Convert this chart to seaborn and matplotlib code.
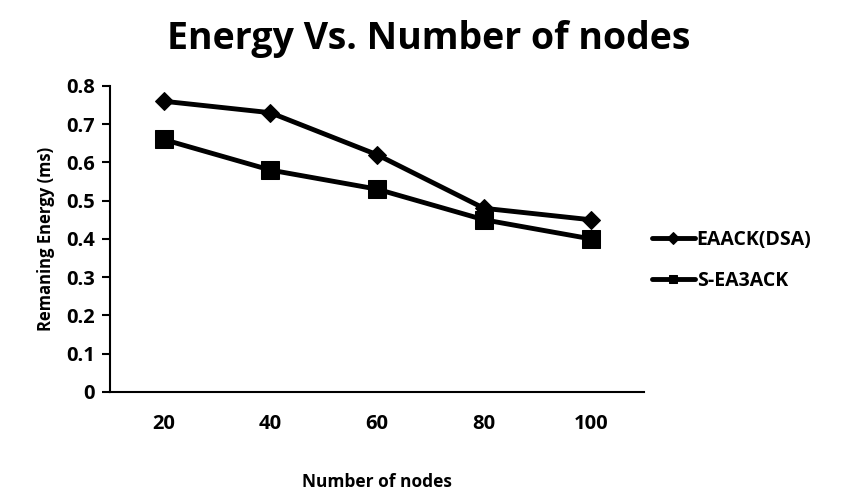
import matplotlib
matplotlib.use("Agg")
import matplotlib.pyplot as plt
import seaborn as sns
import pandas as pd

nodes = [20, 40, 60, 80, 100]
eaack = [0.76, 0.73, 0.62, 0.48, 0.45]
s_ea3ack = [0.66, 0.58, 0.53, 0.45, 0.40]
series_names = ["EAACK(DSA)", "S-EA3ACK"]
yticks = [0, 0.1, 0.2, 0.3, 0.4, 0.5, 0.6, 0.7, 0.8]
yticklabels = ["0", "0.1", "0.2", "0.3", "0.4", "0.5", "0.6", "0.7", "0.8"]

df = pd.DataFrame({
    "nodes": nodes * 2,
    "energy": eaack + s_ea3ack,
    "series": [series_names[0]] * len(nodes) + [series_names[1]] * len(nodes),
})

sns.set_style("white")
plt.rcParams["font.family"] = ["Open Sans", "DejaVu Sans"]
plt.rcParams["text.color"] = "black"
plt.rcParams["axes.labelcolor"] = "black"
plt.rcParams["xtick.color"] = "black"
plt.rcParams["ytick.color"] = "black"

fig = plt.figure(figsize=(8.67, 4.91), dpi=100)
ax = fig.add_axes([0.127, 0.202, 0.616, 0.623])

sns.lineplot(data=df, x="nodes", y="energy", hue="series", style="series",
             markers={"EAACK(DSA)": "D", "S-EA3ACK": "s"}, dashes=False,
             palette={"EAACK(DSA)": "black", "S-EA3ACK": "black"},
             linewidth=3.5, ax=ax, legend=True, markeredgecolor="black")
for line, ms in zip(ax.lines[:2], [9, 13]):
    line.set_markersize(ms)
    line.set_markeredgecolor("black")

ax.set_xlim(10, 110)
ax.set_ylim(0, 0.8)
ax.set_xticks(nodes)
ax.set_xticklabels([str(n) for n in nodes])
ax.set_yticks(yticks)
ax.set_yticklabels(yticklabels)
for sp in ["top", "right"]:
    ax.spines[sp].set_visible(False)
for sp in ["left", "bottom"]:
    ax.spines[sp].set_color("black")
    ax.spines[sp].set_linewidth(1.5)
ax.tick_params(axis="y", which="major", length=6, width=1.5, direction="out", left=True,
               labelsize=14.5, pad=5)
ax.tick_params(axis="x", length=0, labelsize=14.5, pad=16)
for lbl in ax.get_xticklabels() + ax.get_yticklabels():
    lbl.set_fontweight("bold")

ax.set_xlabel("Number of nodes", fontsize=12.5, fontweight="bold", labelpad=28)
ax.set_ylabel("Remaning Energy (ms)", fontsize=12, fontweight="bold", labelpad=8)
fig.suptitle("Energy Vs. Number of nodes", x=0.495, y=0.96, fontsize=27, fontweight="bold")

handles, labels = ax.get_legend_handles_labels()
for h in handles:
    h.set_markeredgecolor("black")
leg = ax.legend(handles, labels, loc="center left", bbox_to_anchor=(1.0, 0.43),
                frameon=False, fontsize=14, handlelength=2.2, handletextpad=0.1,
                labelspacing=1.1, borderaxespad=0)
for t in leg.get_texts():
    t.set_fontweight("bold")

fig.savefig("out.png", dpi=100)
